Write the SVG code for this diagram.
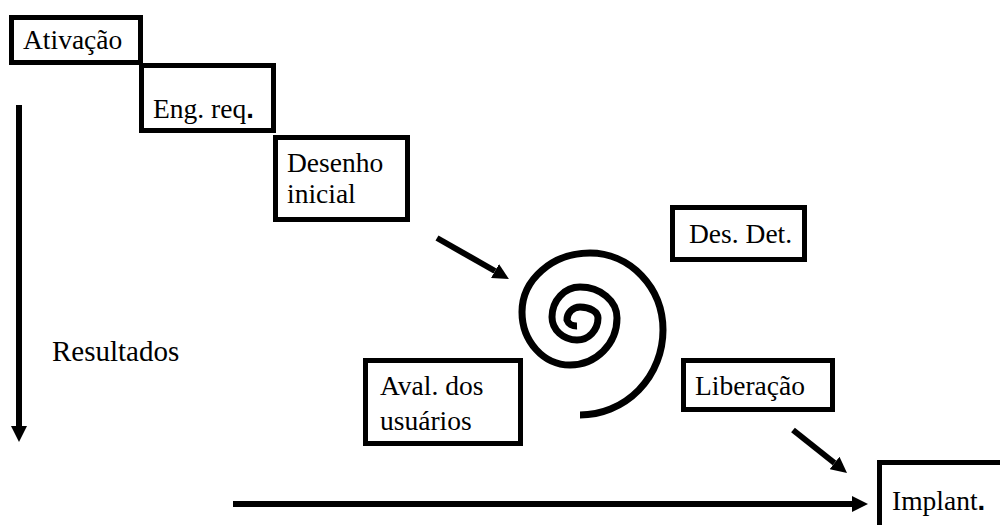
<svg xmlns="http://www.w3.org/2000/svg" width="1000" height="525" viewBox="0 0 1000 525">
<style>
.box{fill:#fff;stroke:#000;stroke-width:5}
.t{font-family:'Liberation Serif','Times New Roman',serif;font-size:27.5px;fill:#000}
.dot{font-family:'Liberation Sans',Arial,sans-serif;font-weight:bold}
.conn{stroke:#000;stroke-width:6;fill:none}
</style>
<defs>
<marker id="ah" viewBox="0 0 16 16" refX="0" refY="8" markerWidth="16" markerHeight="16" markerUnits="userSpaceOnUse" orient="auto">
<path d="M0,0 L16,8 L0,16 z" fill="#000"/>
</marker>
</defs>
<rect width="1000" height="525" fill="#fff"/>
<g id="ativacao"><rect class="box" x="11.5" y="17.5" width="129" height="45"/><text class="t" x="23" y="49">Ativação</text></g>
<g id="engreq"><rect class="box" x="141.5" y="65.5" width="132" height="65"/><text class="t" x="153" y="118">Eng. req<tspan class="dot">.</tspan></text></g>
<g id="desenho"><rect class="box" x="275.5" y="137.5" width="132" height="82"/><text class="t" x="287" y="172">Desenho</text><text class="t" x="287" y="203">inicial</text></g>
<g id="desdet"><rect class="box" x="672.5" y="207.5" width="132" height="52"/><text class="t" x="689" y="243">Des. Det.</text></g>
<g id="aval"><rect class="box" x="365.5" y="360.5" width="155" height="83"/><text class="t" x="380" y="395">Aval. dos</text><text class="t" x="380" y="430">usuários</text></g>
<g id="liberacao"><rect class="box" x="683.5" y="360.5" width="149" height="49"/><text class="t" x="695" y="395">Liberação</text></g>
<g id="implant"><rect class="box" x="879.5" y="462.5" width="200" height="100"/><text class="t" x="892" y="510">Implant<tspan class="dot">.</tspan></text></g>
<g id="resultados"><text class="t" x="52" y="361" style="font-size:29px">Resultados</text></g>
<g id="spiral"><path d="M580,415 A83,85 0 0 0 663,330 A73,77 0 0 0 590,253 A68,59 0 0 0 522,312 A48,53 0 0 0 570,365 A47,47 0 0 0 617,318 A37,31 0 0 0 580,287 A28,30 0 0 0 552,317 A25,23 0 0 0 577,340 A21,22 0 0 0 598,318 A18,11 0 0 0 580,307 A13,13 0 0 0 567,320 A10,8 0 0 0 577,326" fill="none" stroke="#000" stroke-width="7"/></g>
<g id="connectors">
<line class="conn" x1="19" y1="105" x2="19" y2="426" marker-end="url(#ah)"/>
<line class="conn" x1="233" y1="504" x2="852" y2="504" marker-end="url(#ah)"/>
<line class="conn" x1="437" y1="238" x2="495" y2="271" marker-end="url(#ah)"/>
<line class="conn" x1="793" y1="430" x2="834.5" y2="463" marker-end="url(#ah)"/>
</g>
</svg>
